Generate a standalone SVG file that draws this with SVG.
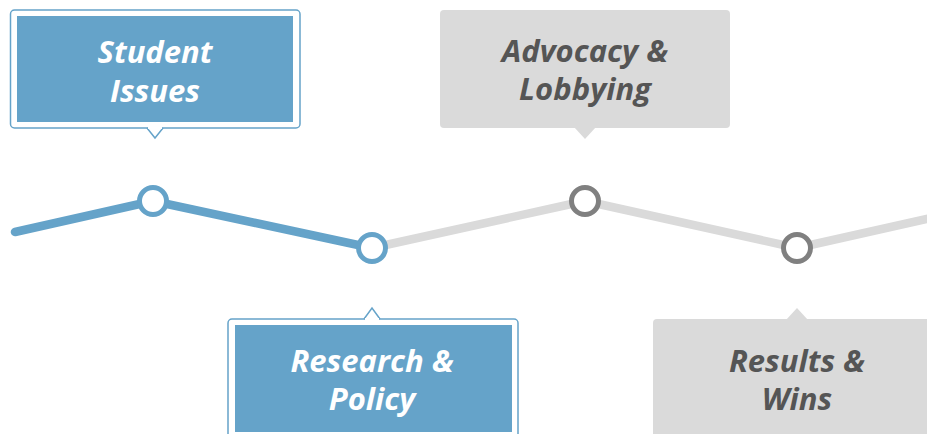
<svg xmlns="http://www.w3.org/2000/svg" width="927" height="434" viewBox="0 0 927 434">
<style>
.t{font-family:"Open Sans","Liberation Sans",sans-serif;font-weight:700;font-style:italic;font-size:31px;text-anchor:middle}
.tb{fill:#ffffff}
.tg{fill:#555555}
.outer{fill:#ffffff;stroke:#65a3c9;stroke-width:1.5}
.inner{fill:#65a3c9}
.gbox{fill:#dadada}
.ln{fill:none;stroke-width:8.5;stroke-linecap:round;stroke-linejoin:round}
.cb{fill:#ffffff;stroke:#65a3c9;stroke-width:5}
.cg{fill:#ffffff;stroke:#808080;stroke-width:5}
</style>
<rect width="927" height="434" fill="#ffffff"/>
<g id="connectors">
<polyline class="ln" stroke="#dadada" points="372,248 585,201 797,248 940,216"/>
<polyline class="ln" stroke="#65a3c9" points="15,232 153,201 372,248"/>
</g>
<g id="node-student-issues">
<rect class="outer" x="10.5" y="10" width="289.5" height="118" rx="4"/>
<path class="outer" d="M147,128 L155,138 L163,128"/>
<line x1="148" y1="128" x2="162" y2="128" stroke="#ffffff" stroke-width="2"/>
<rect class="inner" x="17" y="16" width="276" height="106"/>
<text class="t tb" x="155" y="63">Student</text>
<text class="t tb" x="155" y="102">Issues</text>
<circle class="cb" cx="153" cy="201" r="13.5"/>
</g>
<g id="node-research-policy">
<rect class="outer" x="228" y="319" width="290" height="130" rx="4"/>
<path class="outer" d="M364,319 L372,308 L380,319"/>
<line x1="365" y1="319" x2="379" y2="319" stroke="#ffffff" stroke-width="2"/>
<rect class="inner" x="235" y="325" width="277" height="107"/>
<text class="t tb" x="372" y="372">Research &amp;</text>
<text class="t tb" x="372" y="410">Policy</text>
<circle class="cb" cx="372" cy="248" r="13.5"/>
</g>
<g id="node-advocacy-lobbying">
<rect class="gbox" x="440" y="10" width="290" height="118" rx="4"/>
<path class="gbox" d="M574,127 L585,139 L596,127 Z"/>
<text class="t tg" x="585" y="62">Advocacy &amp;</text>
<text class="t tg" x="585" y="100">Lobbying</text>
<circle class="cg" cx="585" cy="201" r="13.5"/>
</g>
<g id="node-results-wins">
<rect class="gbox" x="653" y="319" width="290" height="130" rx="4"/>
<path class="gbox" d="M786,320 L797,308 L808,320 Z"/>
<text class="t tg" x="797" y="372">Results &amp;</text>
<text class="t tg" x="797" y="410">Wins</text>
<circle class="cg" cx="797" cy="248" r="13.5"/>
</g>
</svg>
